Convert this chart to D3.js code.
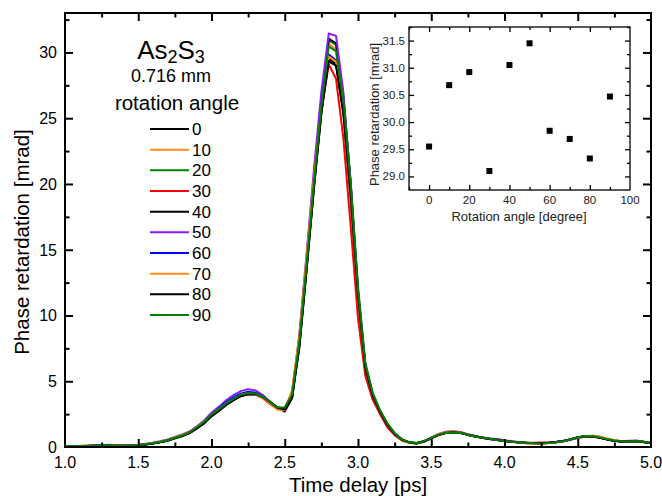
<!DOCTYPE html>
<html>
<head>
<meta charset="utf-8">
<script src="https://cdn.jsdelivr.net/npm/d3@7"></script>
<style>
  body { margin: 0; background: #fff; }
  svg { font-family: "Liberation Sans", Arial, sans-serif; }
</style>
</head>
<body>
<svg id="chart" width="662" height="496"></svg>
<script>
// time grid [ps]
const timeDelay = [1.00,1.05,1.10,1.15,1.20,1.25,1.30,1.35,1.40,1.45,1.50,1.55,1.60,1.65,1.70,1.75,1.80,1.85,1.90,1.95,
  2.00,2.05,2.10,2.15,2.20,2.25,2.30,2.35,2.40,2.45,2.50,2.55,2.60,2.65,2.70,2.75,2.80,2.85,2.90,2.95,
  3.00,3.05,3.10,3.15,3.20,3.25,3.30,3.35,3.40,3.45,3.50,3.55,3.60,3.65,3.70,3.75,3.80,3.85,3.90,3.95,
  4.00,4.05,4.10,4.15,4.20,4.25,4.30,4.35,4.40,4.45,4.50,4.55,4.60,4.65,4.70,4.75,4.80,4.85,4.90,4.95,5.00];

const angles = [0, 10, 20, 30, 40, 50, 60, 70, 80, 90];
const colors = ["#000000", "#ff8c1a", "#008000", "#ff0000", "#000000", "#8a1aff", "#0000ff", "#ff8c1a", "#000000", "#008000"];

// phase retardation [mrad] per rotation angle
const ret0 = [0.05,0.06,0.08,0.08,0.10,0.10,0.12,0.12,0.10,0.12,0.15,
  0.20,0.28,0.38,0.50,0.68,0.85,1.08,1.45,1.85,2.40,2.80,3.25,3.60,3.90,4.05,4.05,3.80,3.40,2.95,2.70,
  3.70,7.6,13.6,19.8,25.4,29.55,29.1,25.4,18.8,11.2,5.9,3.9,2.7,1.7,1.0,0.55,0.35,
  0.28,0.42,0.68,0.92,1.08,1.12,1.08,0.92,0.80,0.70,0.60,0.55,0.45,0.40,0.35,0.30,0.28,0.28,0.32,0.38,0.45,0.58,0.72,0.82,0.82,0.72,0.58,0.48,0.42,0.42,0.45,0.38,0.28];
const ret10 = [0.06,0.05,0.07,0.09,0.08,0.11,0.10,0.13,0.11,0.10,0.16,
  0.22,0.30,0.40,0.52,0.72,0.90,1.12,1.50,1.92,2.50,2.90,3.35,3.70,4.00,4.12,4.05,3.75,3.30,2.85,2.85,
  4.20,8.4,14.6,20.8,26.4,30.68,30.2,26.0,19.2,11.4,6.0,3.9,2.6,1.6,0.95,0.50,0.32,
  0.26,0.40,0.70,0.98,1.15,1.18,1.12,0.95,0.82,0.70,0.62,0.55,0.46,0.40,0.34,0.28,0.25,0.27,0.30,0.36,0.44,0.56,0.70,0.80,0.86,0.78,0.62,0.50,0.45,0.40,0.44,0.40,0.30];
const ret20 = [0.05,0.07,0.06,0.08,0.09,0.10,0.11,0.10,0.12,0.13,0.14,
  0.20,0.29,0.39,0.52,0.70,0.88,1.10,1.48,1.90,2.45,2.85,3.30,3.65,3.95,4.10,4.08,3.85,3.45,3.00,2.95,
  4.00,8.0,14.0,20.3,26.0,30.92,30.6,26.6,20.2,12.2,6.4,4.1,2.8,1.8,1.05,0.58,0.36,
  0.30,0.44,0.70,0.95,1.10,1.12,1.06,0.92,0.80,0.72,0.62,0.54,0.46,0.40,0.36,0.32,0.28,0.26,0.30,0.36,0.44,0.58,0.74,0.84,0.84,0.74,0.60,0.50,0.44,0.42,0.46,0.40,0.30];
const ret30 = [0.06,0.08,0.07,0.09,0.10,0.12,0.18,0.13,0.11,0.13,0.15,
  0.21,0.30,0.40,0.52,0.70,0.90,1.10,1.50,1.95,2.50,2.85,3.30,3.60,3.85,4.00,4.00,3.70,3.25,2.95,2.80,
  3.90,8.2,14.0,20.2,25.5,29.1,28.0,23.5,16.8,9.8,5.4,3.6,2.5,1.5,0.9,0.50,0.32,
  0.28,0.42,0.66,0.90,1.06,1.10,1.08,0.92,0.80,0.70,0.60,0.54,0.46,0.42,0.36,0.32,0.32,0.34,0.34,0.38,0.44,0.56,0.70,0.80,0.80,0.70,0.58,0.48,0.44,0.42,0.44,0.36,0.28];
const ret40 = [0.05,0.06,0.07,0.08,0.09,0.10,0.10,0.11,0.09,0.10,0.14,
  0.19,0.27,0.36,0.48,0.66,0.84,1.06,1.42,1.82,2.35,2.75,3.20,3.58,3.88,4.02,4.02,3.80,3.42,3.00,2.85,
  3.80,7.8,13.8,20.0,25.8,31.06,30.7,26.6,20.0,11.8,6.2,4.0,2.7,1.7,1.0,0.56,0.34,
  0.27,0.42,0.68,0.92,1.08,1.12,1.08,0.94,0.82,0.70,0.62,0.55,0.45,0.40,0.34,0.30,0.28,0.28,0.30,0.36,0.44,0.56,0.72,0.82,0.82,0.72,0.58,0.48,0.42,0.42,0.44,0.38,0.28];
const ret50 = [0.06,0.07,0.08,0.10,0.11,0.12,0.11,0.12,0.13,0.14,0.16,
  0.22,0.32,0.44,0.58,0.76,0.95,1.18,1.58,2.02,2.60,3.05,3.55,3.95,4.25,4.40,4.30,3.95,3.45,3.00,2.95,
  4.10,8.6,14.8,21.2,27.0,31.44,31.26,27.0,20.0,11.8,6.2,4.0,2.7,1.7,1.0,0.55,0.33,
  0.28,0.44,0.72,1.00,1.16,1.20,1.14,0.98,0.84,0.72,0.64,0.60,0.52,0.44,0.38,0.33,0.30,0.30,0.32,0.36,0.44,0.54,0.68,0.80,0.84,0.76,0.60,0.50,0.44,0.48,0.50,0.40,0.30];
const ret60 = [0.05,0.06,0.08,0.07,0.10,0.09,0.11,0.10,0.08,0.09,0.13,
  0.19,0.28,0.38,0.51,0.70,0.90,1.12,1.52,1.95,2.50,2.95,3.40,3.78,4.05,4.20,4.12,3.85,3.42,2.98,2.90,
  4.00,8.2,14.2,20.4,26.0,29.84,29.4,25.8,19.4,11.6,6.1,4.0,2.7,1.7,1.0,0.55,0.34,
  0.28,0.42,0.70,0.94,1.10,1.14,1.08,0.94,0.80,0.70,0.60,0.54,0.45,0.40,0.35,0.30,0.28,0.28,0.30,0.36,0.46,0.60,0.74,0.82,0.82,0.72,0.58,0.48,0.42,0.42,0.44,0.38,0.28];
const ret70 = [0.06,0.05,0.08,0.09,0.08,0.10,0.12,0.11,0.10,0.12,0.15,
  0.21,0.30,0.40,0.53,0.74,0.92,1.15,1.52,1.95,2.48,2.88,3.30,3.65,3.95,4.08,4.02,3.72,3.28,2.85,2.80,
  4.30,8.5,14.6,20.6,25.8,29.69,29.3,25.6,19.2,11.4,6.0,3.9,2.7,1.7,1.0,0.52,0.32,
  0.26,0.40,0.70,0.98,1.14,1.18,1.12,0.96,0.82,0.70,0.62,0.54,0.46,0.40,0.34,0.28,0.25,0.26,0.30,0.36,0.44,0.58,0.70,0.80,0.86,0.80,0.64,0.52,0.44,0.40,0.42,0.40,0.30];
const ret80 = [0.05,0.06,0.07,0.08,0.09,0.10,0.11,0.10,0.10,0.11,0.14,
  0.19,0.27,0.37,0.49,0.66,0.83,1.05,1.42,1.80,2.35,2.75,3.20,3.55,3.88,4.02,4.02,3.80,3.40,2.98,2.85,
  3.80,7.7,13.6,19.8,25.4,29.33,29.0,25.4,19.2,11.5,6.0,3.9,2.7,1.7,1.0,0.55,0.35,
  0.28,0.42,0.68,0.92,1.08,1.12,1.08,0.94,0.82,0.70,0.60,0.55,0.46,0.40,0.36,0.32,0.30,0.30,0.32,0.38,0.46,0.58,0.72,0.80,0.80,0.70,0.56,0.46,0.42,0.42,0.44,0.38,0.28];
const ret90 = [0.06,0.07,0.08,0.08,0.09,0.10,0.11,0.11,0.10,0.11,0.15,
  0.20,0.28,0.38,0.51,0.70,0.88,1.12,1.50,1.92,2.48,2.88,3.32,3.68,3.98,4.10,4.06,3.84,3.44,3.02,3.00,
  4.00,8.0,14.0,20.2,25.9,30.46,30.1,26.4,20.0,12.0,6.3,4.1,2.8,1.8,1.05,0.58,0.36,
  0.30,0.44,0.70,0.94,1.08,1.10,1.06,0.92,0.80,0.72,0.62,0.54,0.46,0.40,0.36,0.32,0.28,0.26,0.30,0.36,0.44,0.58,0.74,0.84,0.84,0.74,0.60,0.50,0.44,0.42,0.46,0.40,0.30];
const series = [ret0, ret10, ret20, ret30, ret40, ret50, ret60, ret70, ret80, ret90];

// inset: peak retardation vs rotation angle
const peakRet = [29.55, 30.68, 30.92, 29.10, 31.05, 31.45, 29.84, 29.69, 29.33, 30.47];

const svg = d3.select("#chart");

// ---- main plot ----
const m = { left: 65, right: 651, top: 13, bottom: 447 };
const x = d3.scaleLinear().domain([1, 5]).range([m.left, m.right]);
const y = d3.scaleLinear().domain([0, 33]).range([m.bottom, m.top]);

const main = svg.append("g");

// inward ticks on all four sides
function frameTicks(g, xs, ys, major, minor, xMaj, xMin, yMaj, yMin, width) {
  const x0 = xs.range()[0], x1 = xs.range()[1], yb = ys.range()[0], yt = ys.range()[1];
  [[xMaj, major], [xMin, minor]].forEach(([vals, len]) => {
    g.append("g").attr("transform", `translate(0,${yb})`).call(d3.axisTop(xs).tickValues(vals).tickSize(len).tickFormat(""));
    g.append("g").attr("transform", `translate(0,${yt})`).call(d3.axisBottom(xs).tickValues(vals).tickSize(len).tickFormat(""));
  });
  [[yMaj, major], [yMin, minor]].forEach(([vals, len]) => {
    g.append("g").attr("transform", `translate(${x0},0)`).call(d3.axisRight(ys).tickValues(vals).tickSize(len).tickFormat(""));
    g.append("g").attr("transform", `translate(${x1},0)`).call(d3.axisLeft(ys).tickValues(vals).tickSize(len).tickFormat(""));
  });
  g.selectAll(".domain").remove();
  g.selectAll(".tick line").attr("stroke", "#000").attr("stroke-width", width);
  g.append("rect").attr("x", x0).attr("y", yt).attr("width", x1 - x0).attr("height", yb - yt)
    .attr("fill", "none").attr("stroke", "#000").attr("stroke-width", width);
}

// curves
const line = d3.line().x((d, i) => x(timeDelay[i])).y(d => y(d));
series.forEach((s, k) => {
  main.append("path").attr("d", line(s)).attr("fill", "none")
    .attr("stroke", colors[k]).attr("stroke-width", 2).attr("stroke-linejoin", "round");
});

frameTicks(main, x, y, 8, 4.5,
  [1.5, 2, 2.5, 3, 3.5, 4, 4.5], [1.25, 1.75, 2.25, 2.75, 3.25, 3.75, 4.25, 4.75],
  [5, 10, 15, 20, 25, 30], [2.5, 7.5, 12.5, 17.5, 22.5, 27.5, 32.5], 2);

// tick labels
const xTicks = [1.0, 1.5, 2.0, 2.5, 3.0, 3.5, 4.0, 4.5, 5.0];
const yTicks = [0, 5, 10, 15, 20, 25, 30];
main.selectAll(".xl").data(xTicks).enter().append("text")
  .attr("x", d => x(d)).attr("y", 468).attr("text-anchor", "middle")
  .attr("font-size", 16).text(d => d3.format(".1f")(d));
main.selectAll(".yl").data(yTicks).enter().append("text")
  .attr("x", 57).attr("y", d => y(d) + 6).attr("text-anchor", "end")
  .attr("font-size", 16).text(d => d);

main.append("text").attr("x", (m.left + m.right) / 2).attr("y", 492)
  .attr("text-anchor", "middle").attr("font-size", 20.5).text("Time delay [ps]");
main.append("text").attr("transform", `translate(29,${(m.top + m.bottom) / 2 + 12}) rotate(-90)`)
  .attr("text-anchor", "middle").attr("font-size", 20.5).text("Phase retardation [mrad]");

// ---- legend ----
const leg = main.append("g");
const title = leg.append("text").attr("x", 171).attr("y", 59).attr("text-anchor", "middle").attr("font-size", 26);
title.append("tspan").text("As");
title.append("tspan").attr("font-size", 18).attr("dy", 4).text("2");
title.append("tspan").attr("dy", -4).text("S");
title.append("tspan").attr("font-size", 18).attr("dy", 4).text("3");
leg.append("text").attr("x", 171).attr("y", 82).attr("text-anchor", "middle").attr("font-size", 18).text("0.716 mm");
leg.append("text").attr("x", 177).attr("y", 110).attr("text-anchor", "middle").attr("font-size", 20.5).text("rotation angle");

const legY = d3.scaleLinear().domain([0, 9]).range([129, 315]);
angles.forEach((a, k) => {
  leg.append("line").attr("x1", 150).attr("x2", 189).attr("y1", legY(k)).attr("y2", legY(k))
    .attr("stroke", colors[k]).attr("stroke-width", 2);
  leg.append("text").attr("x", 192).attr("y", legY(k) + 6).attr("font-size", 17).text(a);
});

// ---- inset ----
const ins = svg.append("g");
const xi = d3.scaleLinear().domain([-10, 100]).range([409, 630]);
const yi = d3.scaleLinear().domain([28.75, 31.75]).range([190, 27]);
ins.append("rect").attr("x", 409).attr("y", 27).attr("width", 221).attr("height", 163).attr("fill", "#fff");
ins.selectAll("rect.pt").data(peakRet).enter().append("rect").attr("class", "pt")
  .attr("x", (d, i) => xi(angles[i]) - 3).attr("y", d => yi(d) - 3)
  .attr("width", 6).attr("height", 6).attr("fill", "#000");
frameTicks(ins, xi, yi, 5, 3,
  [0, 20, 40, 60, 80], [-10, 10, 30, 50, 70, 90],
  [29, 29.5, 30, 30.5, 31, 31.5], [29.25, 29.75, 30.25, 30.75, 31.25, 31.75], 1.3);

const xiTicks = [0, 20, 40, 60, 80, 100];
const yiTicks = [29.0, 29.5, 30.0, 30.5, 31.0, 31.5];
ins.selectAll(".xil").data(xiTicks).enter().append("text")
  .attr("x", d => xi(d)).attr("y", 204).attr("text-anchor", "middle")
  .attr("font-size", 11.5).attr("fill", "#222").text(d => d);
ins.selectAll(".yil").data(yiTicks).enter().append("text")
  .attr("x", 405).attr("y", d => yi(d) + 4).attr("text-anchor", "end")
  .attr("font-size", 11.5).attr("fill", "#222").text(d => d3.format(".1f")(d));
ins.append("text").attr("x", 519).attr("y", 221).attr("text-anchor", "middle")
  .attr("font-size", 13).attr("fill", "#222").text("Rotation angle [degree]");
ins.append("text").attr("transform", `translate(379,${(27 + 190) / 2 + 6}) rotate(-90)`)
  .attr("text-anchor", "middle").attr("font-size", 13).attr("fill", "#222").text("Phase retardation [mrad]");
</script>
</body>
</html>
